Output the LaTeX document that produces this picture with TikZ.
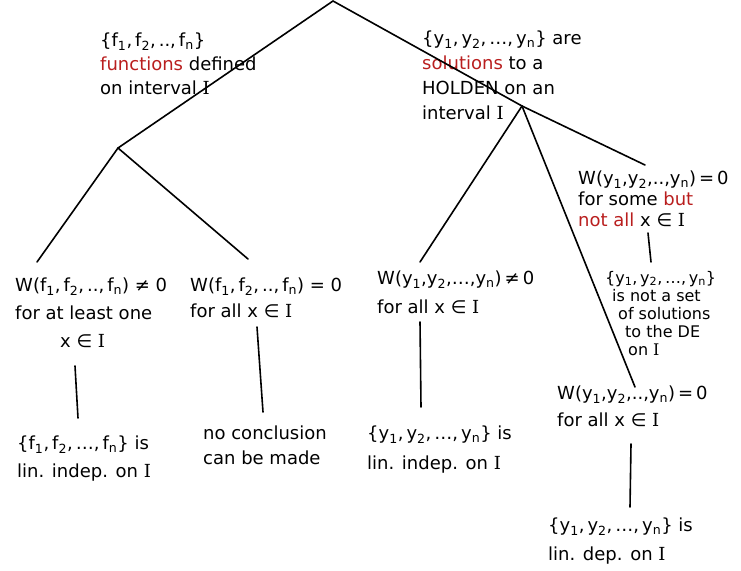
\documentclass[tikz,border=0pt]{standalone}
\usepackage{fontspec}
\setmainfont{DejaVu Sans}
\newfontfamily\serifI{DejaVu Serif}
\definecolor{inkred}{RGB}{185,30,30}
\newcommand{\Iv}{{\serifI I}}
\newcommand{\sbx}[1]{\textsubscript{#1}}
\newcommand{\rd}[1]{\textcolor{inkred}{#1}}
\begin{document}
\begin{tikzpicture}[x=1pt,y=-1pt,
  txt/.style={anchor=north west, inner sep=0pt, align=left, font=\fontsize{18}{#1}\selectfont},
  txt/.default=24,
  ink/.style={line width=1.6pt, line cap=round, line join=round}]
\useasboundingbox (0,0) rectangle (741,570);

% text blocks
\node[txt=24] (fset) at (100,33) {\{f\sbx1,\,f\sbx2,\,..,\,f\sbx n\}\\ \rd{functions} defined\\ on interval \Iv};
\node[txt=25] (yset) at (422,31) {\{y\sbx1,\,y\sbx2,\,\ldots,\,y\sbx n\} are\\ \rd{solutions} to a\\ HOLDEN on an\\ interval \Iv};
\node[txt=28] (wfne) at (15,278) {W(f\sbx1,\,f\sbx2,\,..,\,f\sbx n) ≠ 0\\ for at least one\\ \hspace*{45pt}x ∈ \Iv};
\node[txt=26] (wfeq) at (190,278) {W(f\sbx1,\,f\sbx2,\,..,\,f\sbx n) = 0\\ for all x ∈ \Iv};
\node[txt=29] (wyne) at (377,271) {W(y\sbx1,y\sbx2,\ldots,y\sbx n)\,≠\,0\\ for all x ∈ \Iv};
\node[txt=21] (wysome) at (578,171) {W(y\sbx1,y\sbx2,..,y\sbx n)\,=\,0\\ for some \rd{but}\\ \rd{not all} x ∈ \Iv};
\node[anchor=north west, inner sep=0pt, align=left, font=\fontsize{16}{18}\selectfont] (notsol) at (605,271)
  {\{y\sbx1,\,y\sbx2,\,\ldots,\,y\sbx n\}\\ \hspace*{7pt}is not a set\\ \hspace*{13pt}of solutions\\ \hspace*{20pt}to the DE\\ \hspace*{23pt}on \Iv};
\node[txt=27] (wyall) at (557,386) {W(y\sbx1,y\sbx2,..,y\sbx n)\,=\,0\\ for all x ∈ \Iv};
\node[txt=28] (findep) at (17,436) {\{f\sbx1,\,f\sbx2,\,\ldots,\,f\sbx n\} is\\ lin. indep. on \Iv};
\node[txt=25] (nocon) at (203,426) {no conclusion\\ can be made};
\node[txt=30] (yindep) at (367,426) {\{y\sbx1,\,y\sbx2,\,\ldots,\,y\sbx n\} is\\ lin. indep. on \Iv};
\node[txt=29] (ydep) at (548,518) {\{y\sbx1,\,y\sbx2,\,\ldots,\,y\sbx n\} is\\ lin. dep. on \Iv};

% junctions and connector ends
\coordinate (root) at (333,1);
\coordinate (lj) at (118,148);
\coordinate (hj) at (522,106);
\coordinate (rr) at (645,165);
\coordinate (c1) at (37,262);
\coordinate (c2) at (248,259);
\coordinate (c3) at (420,262);
\coordinate (c4) at (635,387);
\coordinate (l1a) at (75,366);  \coordinate (l1b) at (78,418);
\coordinate (l2a) at (257,327); \coordinate (l2b) at (263,412);
\coordinate (l3a) at (420,322); \coordinate (l3b) at (421,407);
\coordinate (l4a) at (648,233); \coordinate (l4b) at (651,262);
\coordinate (l5a) at (631,444); \coordinate (l5b) at (630,507);

\draw[ink] (root) -- (lj);
\draw[ink] (root) -- (hj) -- (rr);
\draw[ink] (lj) -- (c1);
\draw[ink] (lj) -- (c2);
\draw[ink] (hj) -- (c3);
\draw[ink] (hj) -- (c4);
\draw[ink] (l1a) -- (l1b);
\draw[ink] (l2a) -- (l2b);
\draw[ink] (l3a) -- (l3b);
\draw[ink] (l4a) -- (l4b);
\draw[ink] (l5a) -- (l5b);
\end{tikzpicture}
\end{document}
